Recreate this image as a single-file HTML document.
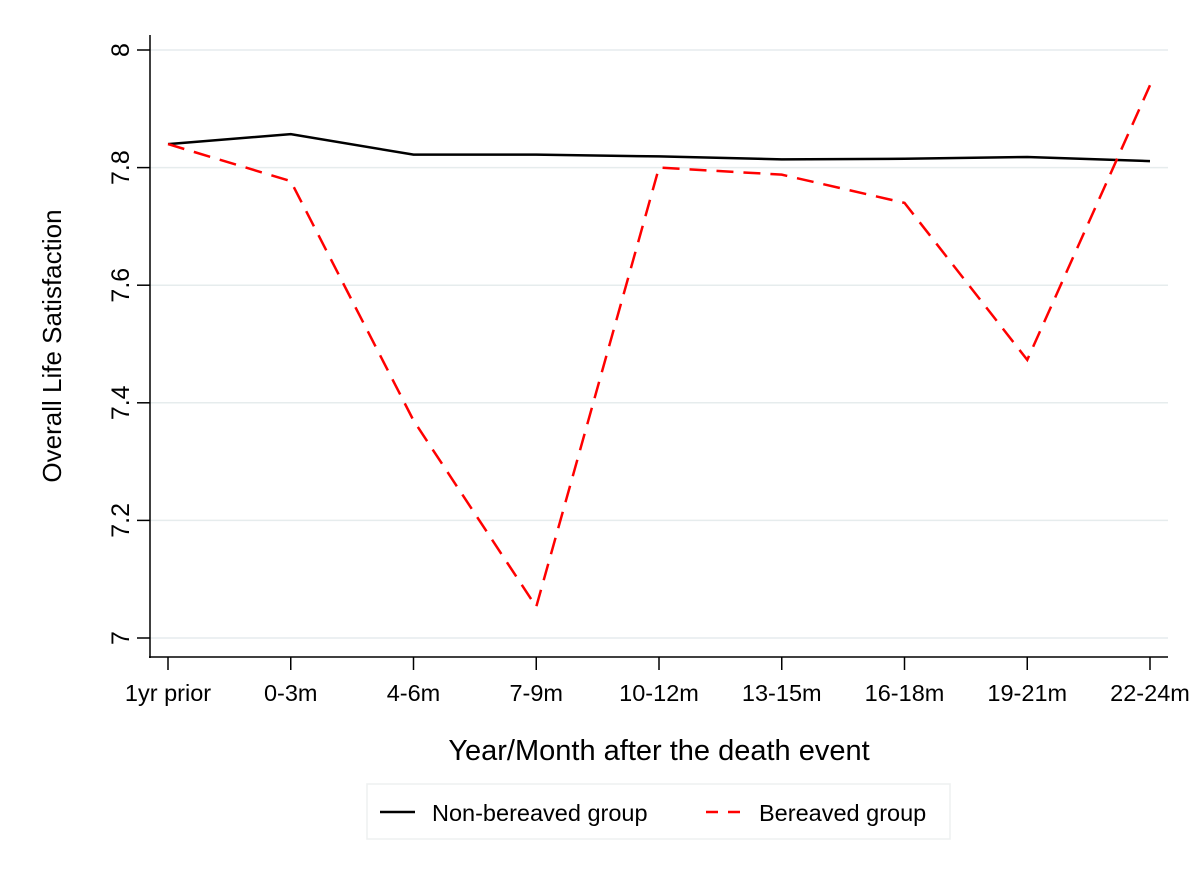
<!DOCTYPE html>
<html><head><meta charset="utf-8"><style>body{margin:0;background:#fff}svg{display:block;font-family:"Liberation Sans",Arial,sans-serif}</style></head>
<body>
<svg id="chart" width="1200" height="882"></svg>
<script>
const categories=["1yr prior","0-3m","4-6m","7-9m","10-12m","13-15m","16-18m","19-21m","22-24m"];
const nonBereaved=[7.840,7.857,7.822,7.822,7.819,7.814,7.815,7.818,7.811];
const bereaved=[7.840,7.777,7.370,7.053,7.800,7.788,7.740,7.473,7.940];
const yTicks=[7,7.2,7.4,7.6,7.8,8];
const yTickLabels=["7","7.2","7.4","7.6","7.8","8"];
const NS="http://www.w3.org/2000/svg";
const svg=document.getElementById('chart');
function x(i){return 168+i*122.75;}
function y(v){return 638-(v-7)*588;}
function mk(t,a,p){const e=document.createElementNS(NS,t);for(const k in a)e.setAttribute(k,a[k]);(p||svg).appendChild(e);return e;}
yTicks.forEach((v,i)=>{
 const g=mk('line',{x1:150,x2:1168,y1:y(v),y2:y(v),stroke:'#e6eced','stroke-width':1.5});
 
 
 mk('line',{x1:137,x2:150,y1:y(v),y2:y(v),stroke:'#000','stroke-width':1.5});
 const t=mk('text',{x:0,y:0,transform:`translate(129,${y(v)}) rotate(-90)`,'text-anchor':'middle','font-size':25});
 t.textContent=yTickLabels[i];
 
 
});
const ya=mk('line',{x1:150,x2:150,y1:35,y2:658,stroke:'#000','stroke-width':1.5});


const xa=mk('line',{x1:149,x2:1168,y1:657,y2:657,stroke:'#000','stroke-width':1.5});


categories.forEach((c,i)=>{
 mk('line',{x1:x(i),x2:x(i),y1:657,y2:670,stroke:'#000','stroke-width':1.5});
 const t=mk('text',{x:x(i),y:701,'text-anchor':'middle','font-size':23.5});
 t.textContent=c;
 
 
});
function pts(a){return a.map((v,i)=>x(i)+','+y(v)).join(' ');}
const l1=mk('polyline',{points:pts(nonBereaved),fill:'none',stroke:'#000','stroke-width':2.5});


const l2=mk('polyline',{points:pts(bereaved),fill:'none',stroke:'#ff0000','stroke-width':2.5,'stroke-dasharray':'17,10'});


const yt=mk('text',{transform:'translate(61,346) rotate(-90)','text-anchor':'middle','font-size':26});
yt.textContent='Overall Life Satisfaction';


const xt=mk('text',{x:659,y:760,'text-anchor':'middle','font-size':29});
xt.textContent='Year/Month after the death event';


const lg=mk('g',{});


mk('rect',{x:367,y:784,width:583,height:55,fill:'#fff',stroke:'#eef0f0','stroke-width':1.5},lg);
mk('line',{x1:380,x2:415,y1:812,y2:812,stroke:'#000','stroke-width':2.5},lg);
const t1=mk('text',{x:432,y:821,'font-size':23.5},lg);t1.textContent='Non-bereaved group';


mk('line',{x1:706,x2:742,y1:812,y2:812,stroke:'#ff0000','stroke-width':2.5,'stroke-dasharray':'12,10'},lg);
const t2=mk('text',{x:759,y:821,'font-size':23.5},lg);t2.textContent='Bereaved group';


</script>
</body></html>
